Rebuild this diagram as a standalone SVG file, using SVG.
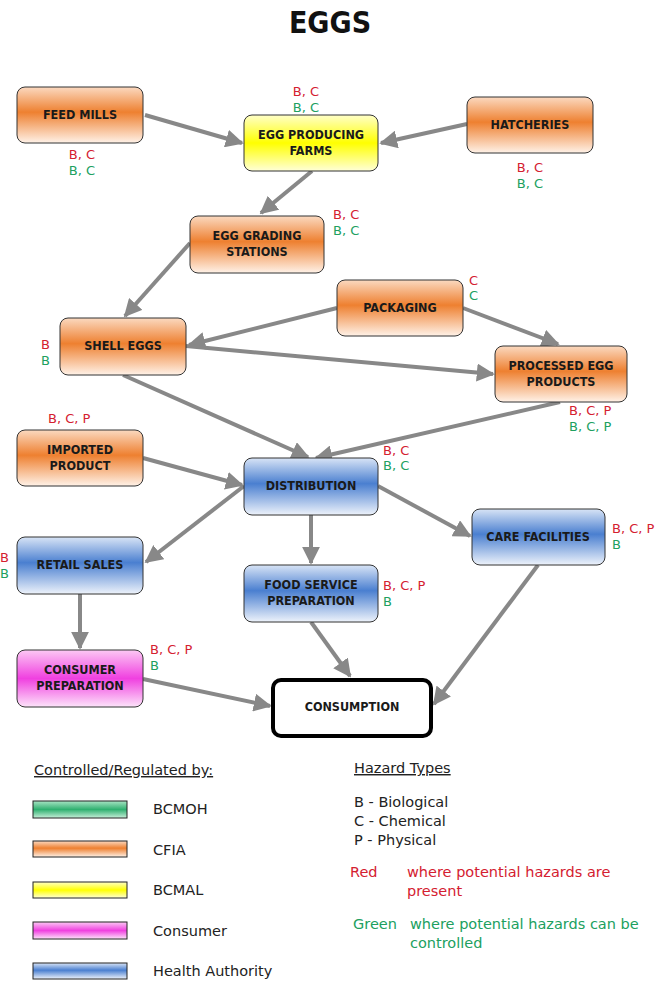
<svg xmlns="http://www.w3.org/2000/svg" width="655" height="982" viewBox="0 0 655 982">
<defs>
<linearGradient id="gO" x1="0" y1="0" x2="0" y2="1"><stop offset="0" stop-color="#fbd9c0"/><stop offset="0.45" stop-color="#ee8030"/><stop offset="1" stop-color="#fff2e8"/></linearGradient>
<linearGradient id="gB" x1="0" y1="0" x2="0" y2="1"><stop offset="0" stop-color="#d8e4f6"/><stop offset="0.45" stop-color="#4a7fd0"/><stop offset="1" stop-color="#eef3fb"/></linearGradient>
<linearGradient id="gY" x1="0" y1="0" x2="0" y2="1"><stop offset="0" stop-color="#ffffc8"/><stop offset="0.5" stop-color="#ffff00"/><stop offset="1" stop-color="#ffffd8"/></linearGradient>
<linearGradient id="gP" x1="0" y1="0" x2="0" y2="1"><stop offset="0" stop-color="#fcc8f4"/><stop offset="0.5" stop-color="#f040e0"/><stop offset="1" stop-color="#fde4fa"/></linearGradient>
<linearGradient id="gG" x1="0" y1="0" x2="0" y2="1"><stop offset="0" stop-color="#a8e4c4"/><stop offset="0.5" stop-color="#30b070"/><stop offset="1" stop-color="#c8f0da"/></linearGradient>
<marker id="ah" viewBox="0 0 10 10" refX="9" refY="5" markerWidth="4.5" markerHeight="4.5" markerUnits="strokeWidth" orient="auto"><path d="M0,0 L10,5 L0,10 z" fill="#888"/></marker>
<style>
.box{stroke:#333;stroke-width:1}
.lbl{font-family:"DejaVu Sans Condensed","DejaVu Sans","Liberation Sans",sans-serif;font-weight:bold;font-size:12.5px;fill:#1a1a1a;text-anchor:middle}
.hz{font-family:"DejaVu Sans","Liberation Sans",sans-serif;font-size:13px}
.leg{font-family:"DejaVu Sans","Liberation Sans",sans-serif;font-size:14.5px;fill:#222}
.r{fill:#d42030}
.g{fill:#20a060}
.conn line{stroke:#888;stroke-width:4;marker-end:url(#ah)}
.bar{stroke:#222;stroke-width:1}
</style>
</defs>
<rect width="655" height="982" fill="#fff"/>
<text x="330" y="33" font-family="DejaVu Sans Condensed,DejaVu Sans,sans-serif" font-weight="bold" font-size="30" text-anchor="middle" fill="#111">EGGS</text>

<g id="connectors" class="conn">
<line x1="145" y1="115" x2="242" y2="143"/>
<line x1="467" y1="124" x2="381" y2="143"/>
<line x1="312" y1="171" x2="261" y2="213"/>
<line x1="190" y1="243" x2="125" y2="316"/>
<line x1="337" y1="308" x2="189" y2="345"/>
<line x1="463" y1="308" x2="558" y2="344"/>
<line x1="186" y1="346" x2="493" y2="374"/>
<line x1="123" y1="375" x2="308" y2="457"/>
<line x1="560" y1="402" x2="316" y2="458"/>
<line x1="143" y1="458" x2="242" y2="485"/>
<line x1="244" y1="486" x2="146" y2="562"/>
<line x1="311" y1="515" x2="311" y2="563"/>
<line x1="378" y1="486" x2="470" y2="536"/>
<line x1="80" y1="594" x2="80" y2="648"/>
<line x1="311" y1="622" x2="350" y2="676"/>
<line x1="538" y1="565" x2="434" y2="704"/>
<line x1="143" y1="679" x2="270" y2="706"/>
</g>

<g id="feed-mills"><rect class="box" x="17" y="87" width="126" height="56" rx="8" fill="url(#gO)"/><text class="lbl" x="80" y="119">FEED MILLS</text>
<text class="hz r" x="82" y="159" text-anchor="middle">B, C</text><text class="hz g" x="82" y="175" text-anchor="middle">B, C</text></g>

<g id="egg-producing-farms"><rect class="box" x="244" y="115" width="134" height="56" rx="8" fill="url(#gY)"/><text class="lbl" x="311" y="139">EGG PRODUCING</text><text class="lbl" x="311" y="155">FARMS</text>
<text class="hz r" x="306" y="96" text-anchor="middle">B, C</text><text class="hz g" x="306" y="112" text-anchor="middle">B, C</text></g>

<g id="hatcheries"><rect class="box" x="467" y="97" width="126" height="56" rx="8" fill="url(#gO)"/><text class="lbl" x="530" y="129">HATCHERIES</text>
<text class="hz r" x="530" y="172" text-anchor="middle">B, C</text><text class="hz g" x="530" y="188" text-anchor="middle">B, C</text></g>

<g id="egg-grading-stations"><rect class="box" x="190" y="216" width="134" height="57" rx="8" fill="url(#gO)"/><text class="lbl" x="257" y="240">EGG GRADING</text><text class="lbl" x="257" y="256">STATIONS</text>
<text class="hz r" x="333" y="219">B, C</text><text class="hz g" x="333" y="235">B, C</text></g>

<g id="packaging"><rect class="box" x="337" y="280" width="126" height="56" rx="8" fill="url(#gO)"/><text class="lbl" x="400" y="312">PACKAGING</text>
<text class="hz r" x="469" y="285">C</text><text class="hz g" x="469" y="300">C</text></g>

<g id="shell-eggs"><rect class="box" x="60" y="318" width="126" height="57" rx="8" fill="url(#gO)"/><text class="lbl" x="123" y="350">SHELL EGGS</text>
<text class="hz r" x="41" y="349">B</text><text class="hz g" x="41" y="365">B</text></g>

<g id="processed-egg-products"><rect class="box" x="495" y="346" width="132" height="56" rx="8" fill="url(#gO)"/><text class="lbl" x="561" y="370">PROCESSED EGG</text><text class="lbl" x="561" y="386">PRODUCTS</text>
<text class="hz r" x="569" y="415">B, C, P</text><text class="hz g" x="569" y="431">B, C, P</text></g>

<g id="imported-product"><rect class="box" x="17" y="430" width="126" height="56" rx="8" fill="url(#gO)"/><text class="lbl" x="80" y="454">IMPORTED</text><text class="lbl" x="80" y="470">PRODUCT</text>
<text class="hz r" x="48" y="423">B, C, P</text></g>

<g id="distribution"><rect class="box" x="244" y="458" width="134" height="57" rx="8" fill="url(#gB)"/><text class="lbl" x="311" y="490">DISTRIBUTION</text>
<text class="hz r" x="383" y="455">B, C</text><text class="hz g" x="383" y="470">B, C</text></g>

<g id="retail-sales"><rect class="box" x="17" y="537" width="126" height="57" rx="8" fill="url(#gB)"/><text class="lbl" x="80" y="569">RETAIL SALES</text>
<text class="hz r" x="0" y="562">B</text><text class="hz g" x="0" y="578">B</text></g>

<g id="food-service-preparation"><rect class="box" x="244" y="565" width="134" height="57" rx="8" fill="url(#gB)"/><text class="lbl" x="311" y="589">FOOD SERVICE</text><text class="lbl" x="311" y="605">PREPARATION</text>
<text class="hz r" x="383" y="590">B, C, P</text><text class="hz g" x="383" y="606">B</text></g>

<g id="care-facilities"><rect class="box" x="472" y="509" width="133" height="56" rx="8" fill="url(#gB)"/><text class="lbl" x="538" y="541">CARE FACILITIES</text>
<text class="hz r" x="612" y="533">B, C, P</text><text class="hz g" x="612" y="549">B</text></g>

<g id="consumer-preparation"><rect class="box" x="17" y="650" width="126" height="57" rx="8" fill="url(#gP)"/><text class="lbl" x="80" y="674">CONSUMER</text><text class="lbl" x="80" y="690">PREPARATION</text>
<text class="hz r" x="150" y="654">B, C, P</text><text class="hz g" x="150" y="670">B</text></g>

<g id="consumption"><rect x="273" y="680" width="158" height="56" rx="8" fill="#fff" stroke="#000" stroke-width="4"/><text class="lbl" x="352" y="711">CONSUMPTION</text></g>

<g id="legend">
<text class="leg" x="34" y="775" text-decoration="underline">Controlled/Regulated by:</text>
<rect class="bar" x="33" y="801" width="94" height="17" fill="url(#gG)"/><text class="leg" x="153" y="814">BCMOH</text>
<rect class="bar" x="33" y="841" width="94" height="16" fill="url(#gO)"/><text class="leg" x="153" y="855">CFIA</text>
<rect class="bar" x="33" y="882" width="94" height="16" fill="url(#gY)"/><text class="leg" x="153" y="895">BCMAL</text>
<rect class="bar" x="33" y="922" width="94" height="17" fill="url(#gP)"/><text class="leg" x="153" y="936">Consumer</text>
<rect class="bar" x="33" y="963" width="94" height="16" fill="url(#gB)"/><text class="leg" x="153" y="976">Health Authority</text>
<text class="leg" x="354" y="773" text-decoration="underline">Hazard Types</text>
<text class="leg" x="354" y="807">B - Biological</text>
<text class="leg" x="354" y="826">C - Chemical</text>
<text class="leg" x="354" y="845">P - Physical</text>
<text class="leg r" x="350" y="877">Red</text>
<text class="leg r" x="407" y="877">where potential hazards are</text>
<text class="leg r" x="407" y="896">present</text>
<text class="leg g" x="353" y="929">Green</text>
<text class="leg g" x="410" y="929">where potential hazards can be</text>
<text class="leg g" x="410" y="948">controlled</text>
</g>
</svg>
